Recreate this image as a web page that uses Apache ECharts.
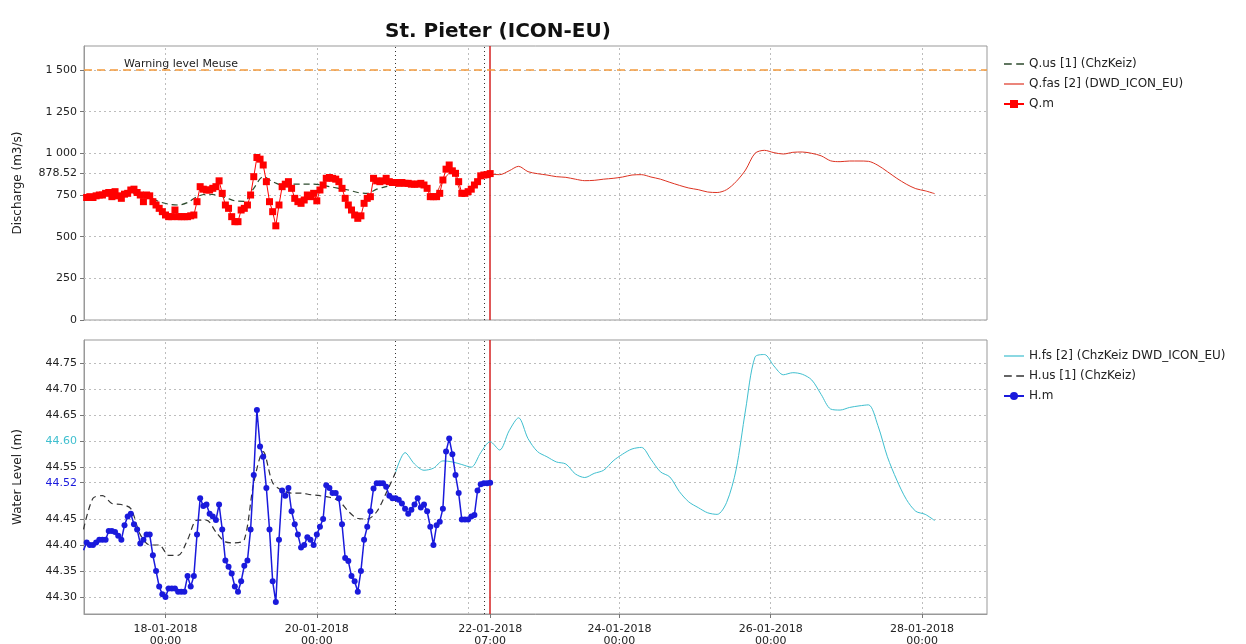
<!DOCTYPE html>
<html>
<head>
<meta charset="utf-8">
<script src="https://cdn.jsdelivr.net/npm/echarts@6/dist/echarts.min.js"></script>
<style>
html,body{margin:0;padding:0;background:#fff;}
#chart{width:1246px;height:644px;}
</style>
</head>
<body>
<div id="chart"></div>
<script>
// Time is expressed in hours relative to 18-01-2018 00:00
const TITLE = 'St. Pieter (ICON-EU)';
const X_MIN = -25.85, X_MAX = 260.6;

// Measured series (hourly, starting 16-01-2018 22:00)
const T_MEAS_START = -26;
const qMeasured = [
  720, 735, 740, 735, 745, 750, 750, 760, 765, 740,
  770, 745, 730, 755, 760, 780, 785, 765, 750, 710,
  750, 745, 710, 690, 670, 650, 630, 620, 620, 660,
  620, 620, 620, 620, 625, 630, 710, 800, 785, 780,
  780, 790, 800, 835, 760, 690, 670, 620, 590, 590,
  660, 670, 690, 750, 860, 975, 965, 930, 830, 710,
  650, 565, 690, 800, 815, 830, 790, 730, 710, 700,
  720, 750, 740, 760, 715, 780, 810, 850, 855, 850,
  845, 830, 790, 730, 690, 660, 630, 610, 625, 700,
  730, 740, 850, 835, 830, 835, 850, 830, 825, 825,
  820, 825, 820, 820, 815, 815, 815, 820, 810, 790,
  740, 740, 740, 760, 840, 905, 930, 895, 880, 830,
  760, 760, 770, 785, 810, 830, 865, 870, 872, 878.52
];
const hMeasured = [
  44.39, 44.405, 44.40, 44.40, 44.405, 44.41, 44.41, 44.41, 44.427, 44.427,
  44.425, 44.418, 44.41, 44.438, 44.455, 44.46, 44.44, 44.43, 44.403, 44.41,
  44.42, 44.42, 44.38, 44.35, 44.32, 44.305, 44.30, 44.316, 44.316, 44.316,
  44.31, 44.31, 44.31, 44.34, 44.32, 44.34, 44.42, 44.49, 44.475, 44.478,
  44.46, 44.455, 44.448, 44.478, 44.43, 44.37, 44.358, 44.345, 44.32, 44.31,
  44.33, 44.36, 44.37, 44.43, 44.535, 44.66, 44.59, 44.57, 44.51, 44.43,
  44.33, 44.29, 44.41, 44.505, 44.495, 44.51, 44.465, 44.44, 44.42, 44.395,
  44.40, 44.415, 44.41, 44.40, 44.42, 44.435, 44.45, 44.515, 44.51, 44.50,
  44.50, 44.49, 44.44, 44.375, 44.369, 44.34, 44.33, 44.31, 44.35, 44.41,
  44.435, 44.465, 44.509, 44.519, 44.519, 44.519, 44.512, 44.495, 44.49, 44.49,
  44.487, 44.48, 44.47, 44.46, 44.468, 44.478, 44.49, 44.472, 44.478, 44.465,
  44.435, 44.40, 44.438, 44.445, 44.47, 44.58, 44.605, 44.575, 44.535, 44.50,
  44.449, 44.449, 44.449, 44.455, 44.458, 44.505, 44.517, 44.519, 44.519, 44.52
];

// Upstream-based series (3-hourly, 16-01 22:00 .. 21-01 01:00)
const T_US_START = -26, US_STEP = 3;
const qUpstream = [
  740, 745, 750, 755, 755, 760, 750, 735, 710, 695,
  690, 705, 740, 755, 750, 735, 715, 712, 790, 860,
  830, 810, 815, 815, 815, 812, 800, 790, 780, 765,
  760, 785, 800, 815
];
const hUpstream = [
  44.43, 44.49, 44.495, 44.48, 44.478, 44.47, 44.42, 44.40, 44.40, 44.38,
  44.38, 44.41, 44.448, 44.448, 44.425, 44.406, 44.404, 44.41, 44.52, 44.58,
  44.52, 44.505, 44.50, 44.50, 44.497, 44.495, 44.492, 44.485, 44.465, 44.451,
  44.45, 44.464, 44.50, 44.54
];

// Forecast series (3-hourly, 21-01 01:00 .. 28-01 04:00)
const T_FC_START = 73, FC_STEP = 3;
const qForecast = [
  825, 820, 815, 810, 745, 835, 895, 770, 785, 862,
  874, 872, 895, 922, 890, 878, 870, 860, 856, 845,
  836, 838, 845, 850, 858, 870, 872, 858, 845, 826,
  808, 792, 782, 768, 765, 782, 830, 900, 1000, 1018,
  1004, 996, 1006, 1008, 1000, 985, 955, 950, 954, 954,
  952, 928, 890, 850, 815, 788, 775, 758
];
const hForecast = [
  44.54, 44.578, 44.556, 44.544, 44.548, 44.562, 44.56, 44.555, 44.55, 44.578,
  44.599, 44.583, 44.62, 44.645, 44.605, 44.58, 44.57, 44.56, 44.556, 44.537,
  44.53, 44.538, 44.544, 44.562, 44.575, 44.585, 44.588, 44.565, 44.541, 44.531,
  44.503, 44.483, 44.472, 44.462, 44.459, 44.482, 44.545, 44.66, 44.762, 44.767,
  44.745, 44.728, 44.732, 44.729, 44.718, 44.69, 44.662, 44.66, 44.665, 44.668,
  44.67, 44.63, 44.57, 44.525, 44.488, 44.465, 44.459, 44.447
];

// Axes / reference lines
const X_TICK_HOURS = [0, 48, 103, 144, 192, 240];
const X_TICK_LABELS = ['18-01-2018\n00:00', '20-01-2018\n00:00', '22-01-2018\n07:00', '24-01-2018\n00:00', '26-01-2018\n00:00', '28-01-2018\n00:00'];
const X_GRID_HOURS = [0, 48, 96, 144, 192, 240];
const X_MARK_HOURS = [73, 101];
const NOW_HOUR = 103;
const Q_TICKS = [0, 250, 500, 750, 878.52, 1000, 1250, 1500];
const Q_MIN = 0, Q_MAX = 1644;
const H_TICKS = [44.30, 44.35, 44.40, 44.45, 44.52, 44.55, 44.60, 44.65, 44.70, 44.75];
const H_MIN = 44.267, H_MAX = 44.795;
const WARNING_LEVEL = 1500;
const WARNING_LABEL = 'Warning level Meuse';
const Q_LAST = 878.52, H_LAST = 44.52, H_FC_NOW = 44.60;

const FONT = 'DejaVu Sans';
const COL_CYAN = '#3fbfcf', COL_BLUE = '#1a1adc', COL_SALMON = '#e0705e';
const ICON_DASH = 'path://M0,0h7v1.3h-7z M11,0h7v1.3h-7z';
const ICON_LINE = 'path://M0,0h20v1.2h-20z';

const series = (arr, start, step) => arr.map((v, i) => [start + i * step, v]);

function gridLines(yTicks) {
  const d = [];
  yTicks.forEach(v => d.push({yAxis: v, lineStyle: {color: '#bdbdbd', type: [2, 3], width: 1}}));
  X_GRID_HOURS.forEach(h => d.push({xAxis: h, lineStyle: {color: '#bdbdbd', type: [2, 3], width: 1}}));
  X_MARK_HOURS.forEach(h => d.push({xAxis: h, lineStyle: {color: '#333', type: [1, 3], width: 1}}));
  d.push({xAxis: NOW_HOUR, lineStyle: {color: '#d42020', type: 'solid', width: 1.5}});
  return d;
}

const chart = echarts.init(document.getElementById('chart'), null, {renderer: 'canvas'});

const fmtQ = v => String(v).replace(/\B(?=(\d{3})+(?!\d))/g, ' ');

const legendText = {fontFamily: FONT, fontSize: 12, color: '#222'};

const option = {
  animation: false,
  backgroundColor: '#fff',
  title: {
    text: TITLE, left: 380, top: 17,
    textStyle: {fontFamily: 'DejaVu Sans', fontWeight: 'bold', fontSize: 20, color: '#111'}
  },
  legend: [
    {
      orient: 'vertical', left: 998, top: 53, itemGap: 8, itemWidth: 20, itemHeight: 10,
      data: [
        {name: 'Q.us [1] (ChzKeiz)', icon: ICON_DASH},
        {name: 'Q.fas [2] (DWD_ICON_EU)', icon: ICON_LINE},
        {name: 'Q.m'}
      ],
      textStyle: legendText
    },
    {
      orient: 'vertical', left: 998, top: 345, itemGap: 8, itemWidth: 20, itemHeight: 10,
      data: [
        {name: 'H.fs [2] (ChzKeiz DWD_ICON_EU)', icon: ICON_LINE},
        {name: 'H.us [1] (ChzKeiz)', icon: ICON_DASH},
        {name: 'H.m'}
      ],
      textStyle: legendText
    }
  ],
  grid: [
    {left: 84, top: 46, width: 903, height: 274, show: true, borderColor: '#999', borderWidth: 1, backgroundColor: 'transparent', containLabel: false, outerBoundsMode: 'none'},
    {left: 84, top: 340, width: 903, height: 274, show: true, borderColor: '#999', borderWidth: 1, backgroundColor: 'transparent', containLabel: false, outerBoundsMode: 'none'}
  ],
  xAxis: [
    {
      type: 'value', gridIndex: 0, min: X_MIN, max: X_MAX,
      axisLine: {show: false, onZero: false}, axisTick: {show: false}, axisLabel: {show: false}, splitLine: {show: false}
    },
    {
      type: 'value', gridIndex: 1, min: X_MIN, max: X_MAX,
      axisLine: {show: true, onZero: false, lineStyle: {color: '#999'}},
      axisTick: {show: true, customValues: X_TICK_HOURS, length: 4, lineStyle: {color: '#777'}},
      axisLabel: {
        show: true, customValues: X_TICK_HOURS, margin: 9, fontFamily: FONT, fontSize: 11, lineHeight: 12,
        formatter: v => { const i = X_TICK_HOURS.indexOf(v); return i >= 0 ? X_TICK_LABELS[i] : ''; },
        color: v => v === NOW_HOUR ? COL_CYAN : '#222'
      },
      splitLine: {show: false}
    }
  ],
  yAxis: [
    {
      type: 'value', gridIndex: 0, min: Q_MIN, max: Q_MAX,
      name: 'Discharge (m3/s)', nameLocation: 'middle', nameGap: 60,
      nameTextStyle: {fontFamily: FONT, fontSize: 12, color: '#222'},
      axisLine: {show: true, onZero: false, lineStyle: {color: '#999'}},
      axisTick: {show: true, customValues: Q_TICKS, length: 4, lineStyle: {color: '#777'}},
      axisLabel: {
        show: true, customValues: Q_TICKS, margin: 7, fontFamily: FONT, fontSize: 11,
        formatter: v => fmtQ(v),
        color: v => v === Q_LAST ? COL_SALMON : '#222'
      },
      splitLine: {show: false}
    },
    {
      type: 'value', gridIndex: 1, min: H_MIN, max: H_MAX,
      name: 'Water Level (m)', nameLocation: 'middle', nameGap: 60,
      nameTextStyle: {fontFamily: FONT, fontSize: 12, color: '#222'},
      axisLine: {show: true, onZero: false, lineStyle: {color: '#999'}},
      axisTick: {show: true, customValues: H_TICKS, length: 4, lineStyle: {color: '#777'}},
      axisLabel: {
        show: true, customValues: H_TICKS, margin: 7, fontFamily: FONT, fontSize: 11,
        formatter: v => v.toFixed(2),
        color: v => Math.abs(v - H_LAST) < 1e-6 ? COL_BLUE : (Math.abs(v - H_FC_NOW) < 1e-6 ? COL_CYAN : '#222')
      },
      splitLine: {show: false}
    }
  ],
  series: [
    {
      name: 'grid-top', type: 'line', xAxisIndex: 0, yAxisIndex: 0, data: [], silent: true, z: 1,
      markLine: {silent: true, symbol: ['none', 'none'], animation: false, label: {show: false}, z: 1, data: gridLines(Q_TICKS)}
    },
    {
      name: 'grid-bottom', type: 'line', xAxisIndex: 1, yAxisIndex: 1, data: [], silent: true, z: 1,
      markLine: {silent: true, symbol: ['none', 'none'], animation: false, label: {show: false}, z: 1, data: gridLines(H_TICKS)}
    },
    {
      name: 'warning', type: 'line', xAxisIndex: 0, yAxisIndex: 0, data: [], silent: true, z: 2,
      markLine: {
        silent: true, symbol: ['none', 'none'], animation: false, z: 2,
        label: {
          show: true, position: 'insideStartTop', formatter: WARNING_LABEL, padding: [0, 0, 0, 40], distance: 0,
          fontFamily: FONT, fontSize: 11, color: '#222'
        },
        lineStyle: {color: '#f39a3c', type: [8, 5], width: 1.5},
        data: [{yAxis: WARNING_LEVEL}]
      }
    },
    {
      name: 'Q.us [1] (ChzKeiz)', type: 'line', xAxisIndex: 0, yAxisIndex: 0, z: 3,
      data: series(qUpstream, T_US_START, US_STEP), symbol: 'none', smooth: 0.3,
      lineStyle: {color: '#2d4a2d', width: 1.2, type: [6, 4]}, itemStyle: {color: '#2d4a2d'}
    },
    {
      name: 'Q.fas [2] (DWD_ICON_EU)', type: 'line', xAxisIndex: 0, yAxisIndex: 0, z: 3,
      data: series(qForecast, T_FC_START, FC_STEP), symbol: 'none', smooth: 0.3,
      lineStyle: {color: '#dd3322', width: 1}, itemStyle: {color: '#dd3322'}
    },
    {
      name: 'Q.m', type: 'line', xAxisIndex: 0, yAxisIndex: 0, z: 4,
      data: series(qMeasured, T_MEAS_START, 1), symbol: 'rect', symbolSize: 7,
      lineStyle: {color: '#ff0000', width: 1}, itemStyle: {color: '#ff0000'}
    },
    {
      name: 'H.fs [2] (ChzKeiz DWD_ICON_EU)', type: 'line', xAxisIndex: 1, yAxisIndex: 1, z: 3,
      data: series(hForecast, T_FC_START, FC_STEP), symbol: 'none', smooth: 0.3,
      lineStyle: {color: COL_CYAN, width: 1}, itemStyle: {color: COL_CYAN}
    },
    {
      name: 'H.us [1] (ChzKeiz)', type: 'line', xAxisIndex: 1, yAxisIndex: 1, z: 3,
      data: series(hUpstream, T_US_START, US_STEP), symbol: 'none', smooth: 0.3,
      lineStyle: {color: '#333', width: 1.2, type: [6, 4]}, itemStyle: {color: '#333'}
    },
    {
      name: 'H.m', type: 'line', xAxisIndex: 1, yAxisIndex: 1, z: 4,
      data: series(hMeasured, T_MEAS_START, 1), symbol: 'circle', symbolSize: 6,
      lineStyle: {color: COL_BLUE, width: 1.5}, itemStyle: {color: COL_BLUE}
    }
  ]
};
chart.setOption(option);
</script>
</body>
</html>
